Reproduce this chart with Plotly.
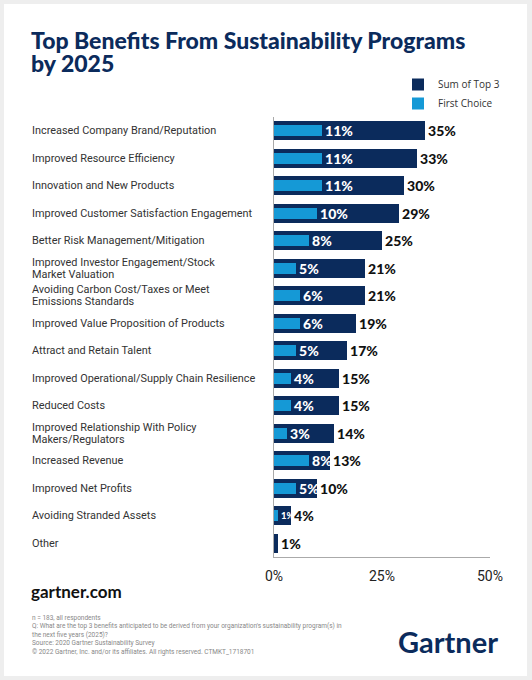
import plotly.graph_objects as go

# benefits, top to bottom
categories = [
    "Increased Company Brand/Reputation",
    "Improved Resource Efficiency",
    "Innovation and New Products",
    "Improved Customer Satisfaction Engagement",
    "Better Risk Management/Mitigation",
    "Improved Investor Engagement/Stock<br>Market Valuation",
    "Avoiding Carbon Cost/Taxes or Meet<br>Emissions Standards",
    "Improved Value Proposition of Products",
    "Attract and Retain Talent",
    "Improved Operational/Supply Chain Resilience",
    "Reduced Costs",
    "Improved Relationship With Policy<br>Makers/Regulators",
    "Increased Revenue",
    "Improved Net Profits",
    "Avoiding Stranded Assets",
    "Other",
]
sum_top3 = [35, 33, 30, 29, 25, 21, 21, 19, 17, 15, 15, 14, 13, 10, 4, 1]
first_choice = [11, 11, 11, 10, 8, 5, 6, 6, 5, 4, 4, 3, 8, 5, 1, 0]
tick_vals = [0, 25, 50]
tick_text = ["0%", "25%", "50%"]

NAVY = "#0b2b5c"
BLUE = "#1599d6"

# plot area in pixels (532x680 page)
W, H = 532, 680
L, R, T, B = 274, 490, 117, 557


def px_x(x):
    return (x - L) / (R - L)


def px_y(y):
    return (B - y) / (B - T)


fig = go.Figure()
fig.add_trace(go.Bar(
    y=categories, x=sum_top3, orientation="h", name="Sum of Top 3",
    marker=dict(color=NAVY, line=dict(width=0)), width=0.7,
    text=[f"{v}%" for v in sum_top3], textposition="outside", constraintext="none",
    textfont=dict(family="Lato", size=14, color="#111", weight=900),
    cliponaxis=False, hoverinfo="skip",
))
fig.add_trace(go.Bar(
    y=categories, x=first_choice, orientation="h", name="First Choice",
    marker=dict(color=BLUE, line=dict(width=0)), width=0.4,
    text=[f"{v}%" if v > 0 else "" for v in first_choice], textposition="outside",
    constraintext="none",
    # tiny bar gets a smaller label so it stays inside the dark bar
    textfont=dict(family="Lato", size=[9.5 if v < 2 else 14 for v in first_choice],
                  color="white", weight=900),
    cliponaxis=False, hoverinfo="skip",
))

# left-aligned category labels, tight line spacing for wrapped ones
for c in categories:
    lines = c.split("<br>")
    n = len(lines)
    for i, line in enumerate(lines):
        fig.add_annotation(
            x=px_x(30), xref="paper", y=c, yref="y", text=line, showarrow=False,
            xanchor="left", yanchor="middle", align="left",
            yshift=(n - 1) / 2 * 12 - i * 12,
            font=dict(family="Roboto", size=10.9, color="#333"),
        )

# title as two lines
fig.add_annotation(x=px_x(29), y=px_y(40), xref="paper", yref="paper",
                   text="Top Benefits From Sustainability Programs", showarrow=False,
                   xanchor="left", yanchor="middle",
                   font=dict(family="Lato", size=23, color=NAVY, weight=900))
fig.add_annotation(x=px_x(29), y=px_y(63), xref="paper", yref="paper",
                   text="by 2025", showarrow=False,
                   xanchor="left", yanchor="middle",
                   font=dict(family="Lato", size=23, color=NAVY, weight=900))

# footer texts
fig.add_annotation(x=px_x(29), y=px_y(591), xref="paper", yref="paper",
                   text="<b>gartner.com</b>", showarrow=False, xanchor="left", yanchor="middle",
                   font=dict(family="Lato", size=17, color="#111"))
fig.add_annotation(
    x=px_x(30), y=px_y(612), xref="paper", yref="paper", showarrow=False,
    xanchor="left", yanchor="top", align="left",
    text=("n = 183, all respondents<br>"
          "Q: What are the top 3 benefits anticipated to be derived from your organization's sustainability program(s) in<br>"
          "the next five years (2025)?<br>"
          "Source: 2020 Gartner Sustainability Survey<br>"
          "© 2022 Gartner, Inc. and/or its affiliates. All rights reserved. CTMKT_1718701"),
    font=dict(family="Roboto", size=6.5, color="#888"),
)
fig.add_annotation(x=px_x(500), y=px_y(641), xref="paper", yref="paper",
                   text="<b>Gartner</b>", showarrow=False, xanchor="right", yanchor="middle",
                   font=dict(family="Lato", size=29, color=NAVY))

# white card on grey page
fig.add_shape(type="rect", xref="paper", yref="paper", layer="below",
              x0=px_x(4), x1=px_x(527), y0=px_y(676), y1=px_y(4),
              fillcolor="white", line=dict(width=0))

fig.update_layout(
    width=W, height=H,
    margin=dict(l=L, r=W - R, t=T, b=H - B),
    paper_bgcolor="#eeeeee", plot_bgcolor="white",
    barmode="overlay", bargap=0,
    legend=dict(
        x=px_x(398), y=px_y(70), xanchor="left", yanchor="top",
        bgcolor="rgba(0,0,0,0)", font=dict(family="Open Sans", size=10, color="#333"),
        itemwidth=30, tracegroupgap=0,
    ),
    xaxis=dict(
        range=[0, 50], tickvals=tick_vals, ticktext=tick_text, showgrid=False,
        zeroline=False, showline=True, linecolor="#aaaaaa", linewidth=1,
        ticks="", ticklabelstandoff=6,
        tickfont=dict(family="Roboto", size=14, color="#222"),
        fixedrange=True,
    ),
    yaxis=dict(
        autorange="reversed", showticklabels=False, showgrid=False,
        showline=True, linecolor="#aaaaaa", linewidth=1, ticks="",
        fixedrange=True,
    ),
)

fig.write_html("out.html", config={"displayModeBar": False},
               post_script="document.body.style.margin='0';")
